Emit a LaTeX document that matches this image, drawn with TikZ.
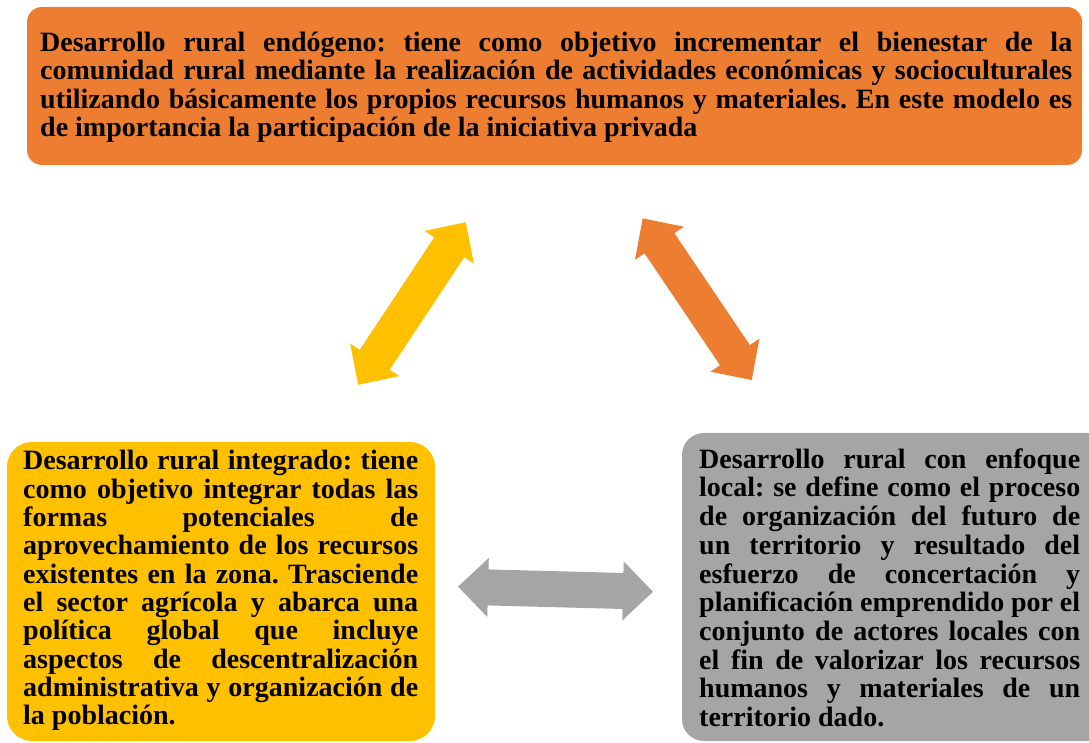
\documentclass[tikz,border=0pt]{standalone}
\usepackage{fontspec}
\setmainfont{Liberation Serif}
\definecolor{orangeA}{HTML}{ED7D31}
\definecolor{goldA}{HTML}{FFC000}
\definecolor{grayA}{HTML}{A5A5A5}
\newcommand\jl[1]{\hbox to\hsize{#1}}
\newcommand\blockpara[3]{\vtop{\hsize=#1\relax\fontsize{28}{#2}\selectfont\bfseries\frenchspacing #3}}
\tikzset{
  box/.style={rounded corners=#1, draw=none},
  txt/.style={anchor=base west, inner sep=0pt},
}
\newcommand\dblarrow[4]{%
  \fill[#4, shift={(#1,#2)}, rotate=#3]
    (-97.5,0) -- (-67.5,29.5) -- (-67.5,18) -- (67.5,18) -- (67.5,29.5) --
    (97.5,0) -- (67.5,-29.5) -- (67.5,-18) -- (-67.5,-18) -- (-67.5,-29.5) -- cycle;}
\begin{document}
\begin{tikzpicture}[x=1pt,y=1pt]
\clip (0,0) rectangle (1089,742);
% boxes
\fill[orangeA, box=15pt] (27,577) rectangle (1082,735);
\fill[goldA, box=25pt] (7,1) rectangle (435,300);
\fill[grayA, box=22pt] (682,1) rectangle (1110,309);
% named anchors of the boxes
\coordinate (top) at (554.5,577);
\coordinate (left) at (221,300);
\coordinate (right) at (885,309);
% texts
\node[txt] (ttop) at (40,690.3) {\blockpara{1032pt}{28.3}{%
\jl{Desarrollo rural endógeno: tiene como objetivo incrementar el bienestar de la}
\jl{comunidad rural mediante la realización de actividades económicas y socioculturales}
\jl{utilizando básicamente los propios recursos humanos y materiales. En este modelo es}
\hbox{de importancia la participación de la iniciativa privada}}};
\node[txt] (tleft) at (23,272) {\blockpara{395pt}{28.3}{%
\jl{Desarrollo rural integrado: tiene}
\jl{como objetivo integrar todas las}
\jl{formas potenciales de}
\jl{aprovechamiento de los recursos}
\jl{existentes en la zona. Trasciende}
\jl{el sector agrícola y abarca una}
\jl{política global que incluye}
\jl{aspectos de descentralización}
\jl{administrativa y organización de}
\hbox{la población.}}};
\node[txt] (tright) at (699,273.7) {\blockpara{381pt}{28.7}{%
\jl{Desarrollo rural con enfoque}
\jl{local: se define como el proceso}
\jl{de organización del futuro de}
\jl{un territorio y resultado del}
\jl{esfuerzo de concertación y}
\jl{planificación emprendido por el}
\jl{conjunto de actores locales con}
\jl{el fin de valorizar los recursos}
\jl{humanos y materiales de un}
\hbox{territorio dado.}}};
% block arrows
\dblarrow{412}{438.5}{56.5}{goldA}
\dblarrow{697.2}{442.8}{-56}{orangeA}
\dblarrow{555.5}{152.8}{-1.5}{grayA}
\end{tikzpicture}
\end{document}
